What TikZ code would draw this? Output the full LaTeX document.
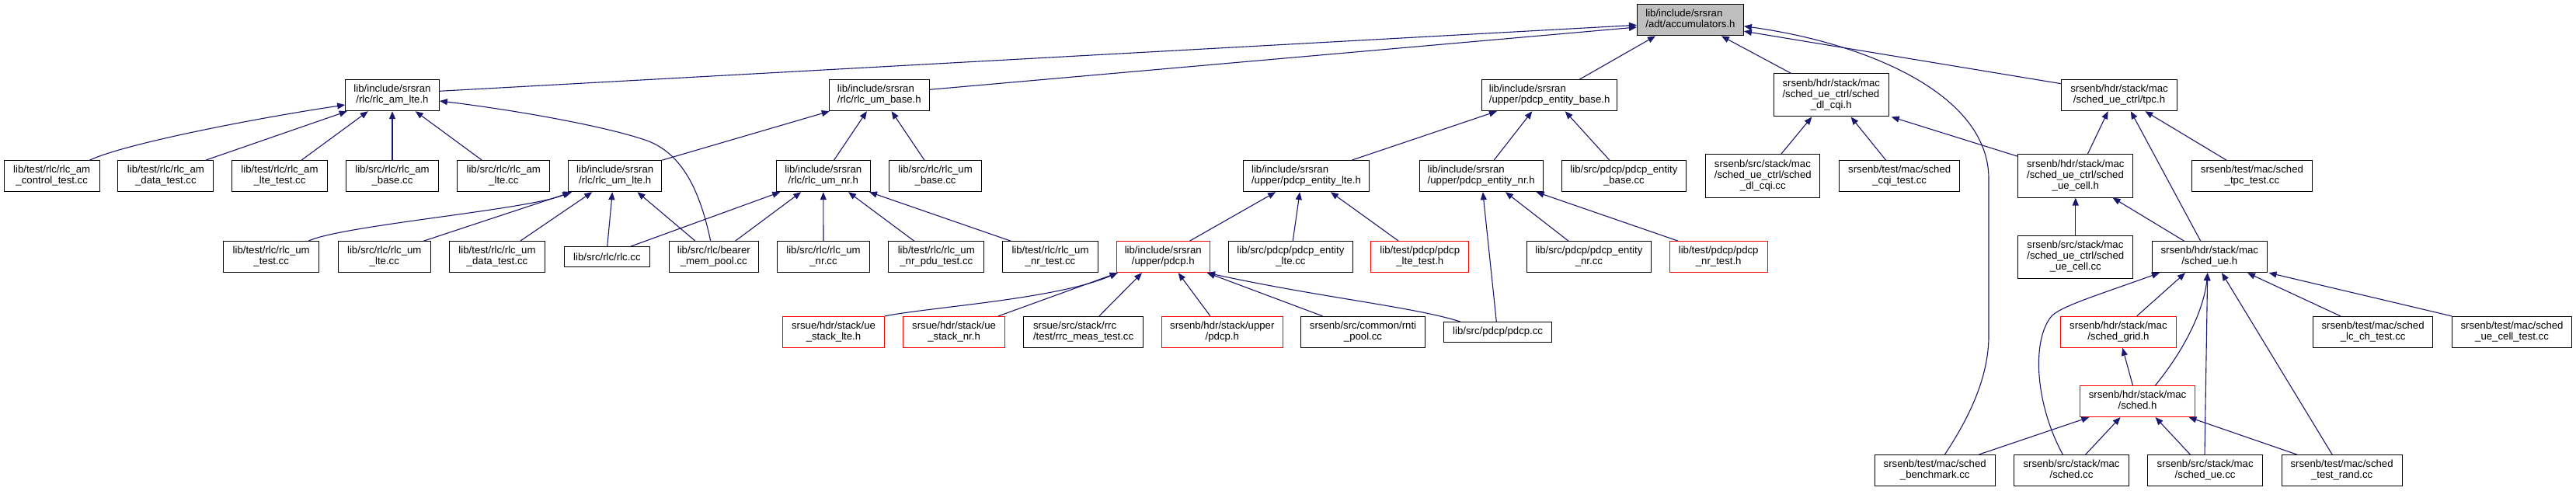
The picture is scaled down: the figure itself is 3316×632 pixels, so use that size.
\documentclass[tikz,border=0pt]{standalone}
\usepackage{fontspec}
\setmainfont{Liberation Sans}
\usetikzlibrary{arrows.meta,calc}
\definecolor{edgecol}{HTML}{191970}
\definecolor{rootfill}{HTML}{BFBFBF}
\newcommand\doxfont{\fontsize{13.2bp}{14.3bp}\selectfont}
\newcommand\twol[2]{\begin{tabular}{@{}l@{}}#1\\\multicolumn{1}{@{}c@{}}{#2}\end{tabular}}
\newcommand\threel[3]{\begin{tabular}{@{}l@{}}#1\\#2\\\multicolumn{1}{@{}c@{}}{#3}\end{tabular}}
\begin{document}
\begin{tikzpicture}[x=1bp,y=-1bp,
  box/.style={draw=black,line width=1bp,fill=white,inner sep=0pt,font=\doxfont},
  redbox/.style={box,draw=red},
  bw/.style={minimum width=#1bp},
  hone/.style={minimum height=25.6bp},
  htwo/.style={minimum height=40bp},
  hthree/.style={minimum height=55bp},
  edge/.style={draw=edgecol,line width=1.1bp,-{Triangle[length=10bp,width=8bp]}}]
\fill[white] (0,0) rectangle (3316,632);
% level 0
\node[box,bw=137,htwo,fill=rootfill] (A) at (2175.9,25.9) {\twol{lib/include/srsran}{/adt/accumulators.h}};
% level 1
\node[box,bw=120.7,htwo] (AM) at (505,122.7) {\twol{lib/include/srsran}{/rlc/rlc\_am\_lte.h}};
\node[box,bw=129.1,htwo] (UB) at (1131.8,122.7) {\twol{lib/include/srsran}{/rlc/rlc\_um\_base.h}};
\node[box,bw=174.7,htwo] (PB) at (1994.6,122.7) {\twol{lib/include/srsran}{/upper/pdcp\_entity\_base.h}};
\node[box,bw=148.2,hthree] (DQ) at (2357.2,122.5) {\threel{srsenb/hdr/stack/mac}{/sched\_ue\_ctrl/sched}{\_dl\_cqi.h}};
\node[box,bw=149.3,htwo] (TP) at (2728,122.7) {\twol{srsenb/hdr/stack/mac}{/sched\_ue\_ctrl/tpc.h}};
% level 2
\node[box,bw=122.8,htwo] (amctl) at (66.7,226.7) {\twol{lib/test/rlc/rlc\_am}{\_control\_test.cc}};
\node[box,bw=122.9,htwo] (amdata) at (213.4,226.7) {\twol{lib/test/rlc/rlc\_am}{\_data\_test.cc}};
\node[box,bw=122.8,htwo] (amltetest) at (360,226.7) {\twol{lib/test/rlc/rlc\_am}{\_lte\_test.cc}};
\node[box,bw=118.6,htwo] (ambase) at (505,226.7) {\twol{lib/src/rlc/rlc\_am}{\_base.cc}};
\node[box,bw=119.1,htwo] (amltecc) at (648.3,226.7) {\twol{lib/src/rlc/rlc\_am}{\_lte.cc}};
\node[box,bw=120.1,htwo] (UML) at (791.7,226.7) {\twol{lib/include/srsran}{/rlc/rlc\_um\_lte.h}};
\node[box,bw=120.7,htwo] (UN) at (1059.8,226.7) {\twol{lib/include/srsran}{/rlc/rlc\_um\_nr.h}};
\node[box,bw=119.1,htwo] (umbase) at (1204.1,226.7) {\twol{lib/src/rlc/rlc\_um}{\_base.cc}};
\node[box,bw=161.4,htwo] (PL) at (1681.5,226.7) {\twol{lib/include/srsran}{/upper/pdcp\_entity\_lte.h}};
\node[box,bw=158.8,htwo] (PN) at (1906.7,226.7) {\twol{lib/include/srsran}{/upper/pdcp\_entity\_nr.h}};
\node[box,bw=159.8,htwo] (pbcc) at (2090.4,226.7) {\twol{lib/src/pdcp/pdcp\_entity}{\_base.cc}};
\node[box,bw=147.2,hthree] (dqcc) at (2269.3,226.5) {\threel{srsenb/src/stack/mac}{/sched\_ue\_ctrl/sched}{\_dl\_cqi.cc}};
\node[box,bw=154.7,htwo] (cqitest) at (2445.2,226.7) {\twol{srsenb/test/mac/sched}{\_cqi\_test.cc}};
\node[box,bw=148.2,hthree] (UC) at (2671.8,226.5) {\threel{srsenb/hdr/stack/mac}{/sched\_ue\_ctrl/sched}{\_ue\_cell.h}};
\node[box,bw=155.6,htwo] (tpctest) at (2898.9,226.7) {\twol{srsenb/test/mac/sched}{\_tpc\_test.cc}};
% level 3
\node[box,bw=123.3,htwo] (umtest) at (349.2,330.7) {\twol{lib/test/rlc/rlc\_um}{\_test.cc}};
\node[box,bw=119.1,htwo] (umltecc) at (494.8,330.7) {\twol{lib/src/rlc/rlc\_um}{\_lte.cc}};
\node[box,bw=122.8,htwo] (umdata) at (640,330.7) {\twol{lib/test/rlc/rlc\_um}{\_data\_test.cc}};
\node[box,bw=110.7,hone] (rlccc) at (781.4,330.5) {lib/src/rlc/rlc.cc};
\node[box,bw=114.5,htwo] (bearer) at (918.8,330.7) {\twol{lib/src/rlc/bearer}{\_mem\_pool.cc}};
\node[box,bw=119.1,htwo] (umnrcc) at (1060,330.7) {\twol{lib/src/rlc/rlc\_um}{\_nr.cc}};
\node[box,bw=122.8,htwo] (nrpdu) at (1205.3,330.7) {\twol{lib/test/rlc/rlc\_um}{\_nr\_pdu\_test.cc}};
\node[box,bw=122.8,htwo] (umnrtest) at (1352,330.7) {\twol{lib/test/rlc/rlc\_um}{\_nr\_test.cc}};
\node[redbox,bw=120.2,htwo] (PH) at (1497.3,330.7) {\twol{lib/include/srsran}{/upper/pdcp.h}};
\node[box,bw=159.3,htwo] (plcc) at (1661.4,330.7) {\twol{lib/src/pdcp/pdcp\_entity}{\_lte.cc}};
\node[redbox,bw=126,htwo] (plt) at (1827.8,330.7) {\twol{lib/test/pdcp/pdcp}{\_lte\_test.h}};
\node[box,bw=159.8,htwo] (pncc) at (2045.4,330.7) {\twol{lib/src/pdcp/pdcp\_entity}{\_nr.cc}};
\node[redbox,bw=125.9,htwo] (pnt) at (2212.2,330.7) {\twol{lib/test/pdcp/pdcp}{\_nr\_test.h}};
\node[box,bw=148.2,hthree] (uccc) at (2671.8,330.5) {\threel{srsenb/src/stack/mac}{/sched\_ue\_ctrl/sched}{\_ue\_cell.cc}};
\node[box,bw=147.7,htwo] (SU) at (2844.2,330.7) {\twol{srsenb/hdr/stack/mac}{/sched\_ue.h}};
% level 4
\node[redbox,bw=131.3,htwo] (uslte) at (1073,427.3) {\twol{srsue/hdr/stack/ue}{\_stack\_lte.h}};
\node[redbox,bw=131.2,htwo] (usnr) at (1228.1,427.3) {\twol{srsue/hdr/stack/ue}{\_stack\_nr.h}};
\node[box,bw=154,htwo] (rrc) at (1394.6,427.3) {\twol{srsue/src/stack/rrc}{/test/rrc\_meas\_test.cc}};
\node[redbox,bw=155.6,htwo] (enbpdcp) at (1573.3,427.3) {\twol{srsenb/hdr/stack/upper}{/pdcp.h}};
\node[box,bw=159.4,htwo] (rnti) at (1754.5,427.3) {\twol{srsenb/src/common/rnti}{\_pool.cc}};
\node[box,bw=139.2,hone] (pdcpcc) at (1928.1,427.3) {lib/src/pdcp/pdcp.cc};
\node[redbox,bw=148.2,htwo] (SG) at (2726.9,427.3) {\twol{srsenb/hdr/stack/mac}{/sched\_grid.h}};
\node[box,bw=154.6,htwo] (lcch) at (3054.6,427.3) {\twol{srsenb/test/mac/sched}{\_lc\_ch\_test.cc}};
\node[box,bw=154.6,htwo] (uecelltest) at (3233.5,427.3) {\twol{srsenb/test/mac/sched}{\_ue\_cell\_test.cc}};
% level 5
\node[redbox,bw=147.7,htwo] (SH) at (2751.5,516.5) {\twol{srsenb/hdr/stack/mac}{/sched.h}};
% level 6
\node[box,bw=154.7,htwo] (bench) at (2490.7,605.7) {\twol{srsenb/test/mac/sched}{\_benchmark.cc}};
\node[box,bw=148.2,htwo] (schedcc) at (2666.5,605.7) {\twol{srsenb/src/stack/mac}{/sched.cc}};
\node[box,bw=148.2,htwo] (sueccc) at (2838.6,605.7) {\twol{srsenb/src/stack/mac}{/sched\_ue.cc}};
\node[box,bw=155.1,htwo] (rand) at (3014.6,605.7) {\twol{srsenb/test/mac/sched}{\_test\_rand.cc}};
% edges to accumulators.h
\draw[edge] ($(AM.east)+(0,-5.4)$) -- ($(A.west)+(0,6.4)$);
\draw[edge] ($(UB.east)+(0,-7.4)$) -- ($(A.west)+(0,9.1)$);
\draw[edge] ($(PB.north)+(38.6,0)$) -- ($(A.south)+(-44.9,0)$);
\draw[edge] ($(DQ.north)+(-51.4,0)$) -- ($(A.south)+(40,0)$);
\draw[edge] ($(TP.west)+(0,-15)$) -- ($(A.east)+(0,14.3)$);
\draw[edge] ($(bench.north)+(12.6,0)$) .. controls (2540,530) and (2560,480) .. (2560,432) -- (2560,230) .. controls (2560,120) and (2400,55) .. ($(A.east)+(0,7.8)$);
% edges to rlc_am_lte.h
\draw[edge] ($(amctl.north)+(48.7,0)$) .. controls (160,185) and (330,152) .. ($(AM.west)+(0,12.3)$);
\draw[edge] ($(amdata.north)+(51.3,0)$) -- ($(AM.south west)+(2.6,0)$);
\draw[edge] ($(amltetest.north)+(28,0)$) -- ($(AM.south)+(-31.2,0)$);
\draw[edge] (ambase.north) -- (AM.south);
\draw[edge] ($(amltecc.north)+(-27.9,0)$) -- ($(AM.south)+(29.7,0)$);
\draw[edge] ($(bearer.north)+(-4.1,0)$) .. controls (900,240) and (875,195) .. (830,180) .. controls (770,160) and (650,140) .. ($(AM.east)+(0,7.3)$);
% edges to rlc_um_base.h
\draw[edge] (UML.north east) -- ($(UB.south west)+(1,0)$);
\draw[edge] ($(UN.north)+(13.7,0)$) -- ($(UB.south)+(-15.9,0)$);
\draw[edge] ($(umbase.north)+(-14.1,0)$) -- ($(UB.south)+(15.8,0)$);
% edges to rlc_um_lte.h
\draw[edge] ($(umtest.north)+(47.8,0)$) .. controls (440,290) and (680,270) .. ($(UML.south west)+(3,0)$);
\draw[edge] ($(umltecc.north)+(50.5,0)$) -- ($(UML.south west)+(5,0)$);
\draw[edge] ($(umdata.north)+(29.7,0)$) -- ($(UML.south)+(-29.4,0)$);
\draw[edge] ($(rlccc.north)+(0.3,0)$) -- ($(UML.south)+(-3.4,0)$);
\draw[edge] ($(bearer.north)+(-23.8,0)$) -- ($(UML.south)+(28.8,0)$);
% edges to rlc_um_nr.h
\draw[edge] ($(rlccc.north)+(30.3,0)$) -- ($(UN.south west)+(5.3,0)$);
\draw[edge] ($(bearer.north)+(27.7,0)$) -- ($(UN.south)+(-28.6,0)$);
\draw[edge] (umnrcc.north) -- (UN.south);
\draw[edge] ($(nrpdu.north)+(-28.6,0)$) -- ($(UN.south)+(32.2,0)$);
\draw[edge] ($(umnrtest.north)+(-50.8,0)$) -- ($(UN.south east)+(-1.6,0)$);
% edges to pdcp_entity_base.h
\draw[edge] ($(PL.north east)+(-22.8,0)$) -- ($(PB.south west)+(20.1,0)$);
\draw[edge] ($(PN.north)+(16.4,0)$) -- ($(PB.south)+(-22.3,0)$);
\draw[edge] ($(pbcc.north)+(-18.5,0)$) -- ($(PB.south)+(20.1,0)$);
% edges to pdcp_entity_lte.h
\draw[edge] ($(PH.north)+(34.1,0)$) -- ($(PL.south west)+(41.8,0)$);
\draw[edge] ($(plcc.north)+(2.8,0)$) -- ($(PL.south)+(-8.3,0)$);
\draw[edge] ($(plt.north)+(-27.5,0)$) -- ($(PL.south)+(31.4,0)$);
% edges to pdcp_entity_nr.h
\draw[edge] ($(pdcpcc.north)+(-1.8,0)$) -- ($(PN.south)+(2.1,0)$);
\draw[edge] ($(pncc.north)+(-26.4,0)$) -- ($(PN.south)+(31.2,0)$);
\draw[edge] ($(pnt.north)+(-51.9,0)$) -- ($(PN.south)+(70.9,0)$);
% edges to pdcp.h
\draw[edge] (uslte.north east) .. controls (1200,395) and (1360,385) .. ($(PH.south west)+(2,0)$);
\draw[edge] ($(usnr.north)+(57.2,0)$) -- ($(PH.south west)+(2,0)$);
\draw[edge] ($(rrc.north)+(20.4,0)$) -- ($(PH.south)+(-27.3,0)$);
\draw[edge] ($(enbpdcp.north)+(-15.4,0)$) -- ($(PH.south)+(19.4,0)$);
\draw[edge] ($(rnti.north)+(-52.1,0)$) -- ($(PH.south east)+(-4,0)$);
\draw[edge] ($(pdcpcc.north)+(-48.4,0)$) .. controls (1820,395) and (1700,383) .. ($(PH.south east)+(-4,0)$);
% edges to sched_dl_cqi.h
\draw[edge] ($(dqcc.north)+(23.3,0)$) -- ($(DQ.south)+(-24.9,0)$);
\draw[edge] ($(cqitest.north)+(-17.6,0)$) -- ($(DQ.south)+(25.4,0)$);
\draw[edge] ($(UC.north west)+(0,2.7)$) -- ($(DQ.south east)+(3,0)$);
% edges to tpc.h
\draw[edge] ($(UC.north)+(15.4,0)$) -- ($(TP.south)+(-14.4,0)$);
\draw[edge] ($(SU.north)+(-11.5,0)$) -- ($(TP.south)+(14.8,0)$);
\draw[edge] ($(tpctest.north)+(-32.8,0)$) -- ($(TP.south)+(33.3,0)$);
% edges to sched_ue_cell.h
\draw[edge] (uccc.north) -- (UC.south);
\draw[edge] ($(SU.north)+(-32.6,0)$) -- ($(UC.south east)+(-26.9,0)$);
% edges to sched_ue.h
\draw[edge] ($(SG.north)+(23.8,0)$) -- ($(SU.south)+(-31.2,0)$);
\draw[edge] ($(SH.north)+(23,0)$) .. controls (2820,440) and (2838,390) .. ($(SU.south)+(-2.5,0)$);
\draw[edge] ($(schedcc.north)+(-11.1,0)$) .. controls (2620,520) and (2615,440) .. (2640,408) .. controls (2650,395) and (2700,380) .. ($(SU.south west)+(10,0)$);
\draw[edge] ($(sueccc.north)+(-0.6,0)$) -- ($(SU.south)+(-2.5,0)$);
\draw[edge] ($(rand.north)+(-12.4,0)$) -- ($(SU.south)+(15.8,0)$);
\draw[edge] ($(lcch.north)+(-41.9,0)$) -- ($(SU.south)+(48.8,0)$);
\draw[edge] (uecelltest.north west) -- ($(SU.south east)+(2,0)$);
% edge to sched_grid.h
\draw[edge] ($(SH.north)+(-6.1,0)$) -- ($(SG.south)+(5.3,0)$);
% edges to sched.h
\draw[edge] ($(bench.north)+(56.2,0)$) -- ($(SH.south west)+(12.2,0)$);
\draw[edge] ($(schedcc.north)+(18,0)$) -- ($(SH.south)+(-22,0)$);
\draw[edge] ($(sueccc.north)+(-19.1,0)$) -- ($(SH.south)+(23,0)$);
\draw[edge] ($(rand.north)+(-57.5,0)$) -- ($(SH.south east)+(-8.4,0)$);
\end{tikzpicture}
\end{document}
